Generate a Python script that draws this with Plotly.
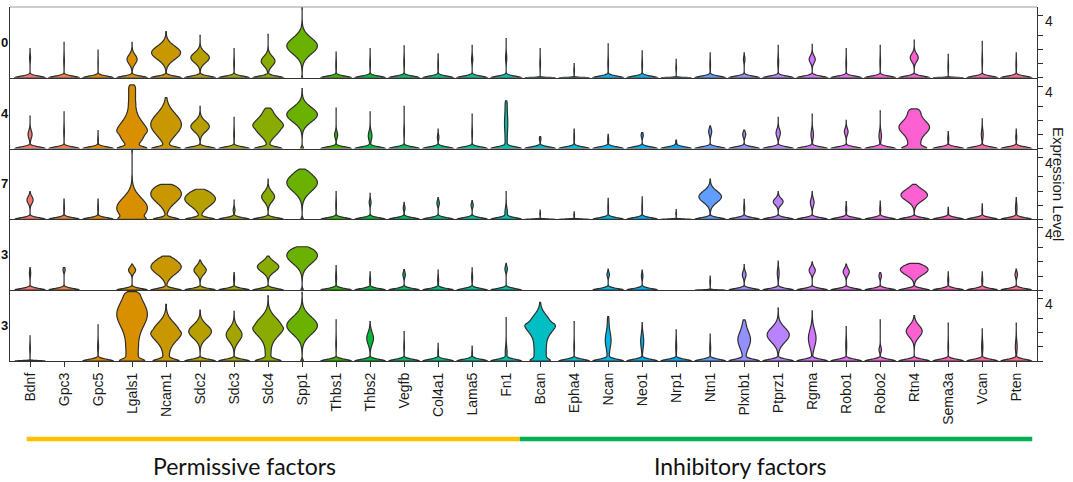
import math
from statistics import NormalDist
import plotly.graph_objects as go
from plotly.subplots import make_subplots

# ---------------- data ----------------
genes = ["Bdnf", "Gpc3", "Gpc5", "Lgals1", "Ncam1", "Sdc2", "Sdc3", "Sdc4", "Spp1",
         "Thbs1", "Thbs2", "Vegfb", "Col4a1", "Lama5", "Fn1",
         "Bcan", "Epha4", "Ncan", "Neo1", "Nrp1", "Ntn1", "Plxnb1", "Ptprz1", "Rgma",
         "Robo1", "Robo2", "Rtn4", "Sema3a", "Vcan", "Pten"]
row_labels = ["0", "4", "7", "3", "3"]
group_labels = ["Permissive factors", "Inhibitory factors"]
group_first_gene = ["Bdnf", "Bcan"]

# per violin: (zero-peak density, expressed-peak density, peak expression,
#              spread of expressed cells, max expression); None = not expressed
row_a = [(1, .03, 1.4, .2, 2.06), (1, .02, 1.2, .3, 2.5), (1, .01, 1.0, .3, 1.96),
         (1, .33, 1.3, .3, 2.5), (1, .95, 1.77, .45, 3.26), (1, .6, 1.42, .33, 3.0),
         (1, .02, 1.0, .3, 2.06), (1, .45, 1.18, .32, 3.07), (.03, 1, 2.25, .55, 4.96),
         (1, .02, .9, .3, 1.82), (1, .02, 1.0, .3, 2.06), (1, .02, 1.1, .3, 2.25),
         (1, .02, .9, .3, 1.7), (1, .04, 1.3, .2, 2.3), (1, .04, 1.4, .25, 2.77),
         (1, .02, 1.0, .3, 2.06), (1, .02, .5, .2, 1.0), (1, .02, 1.0, .3, 2.4),
         (1, .02, .9, .3, 1.9), (1, .02, .7, .2, 1.3), (1, .02, .9, .3, 1.77),
         (1, .05, 1.3, .15, 1.77), (1, .03, 1.1, .3, 2.3), (1, .2, 1.3, .22, 2.36),
         (1, .02, 1.0, .3, 2.06), (1, .02, 1.1, .3, 2.3), (1, .26, 1.42, .25, 2.67),
         (1, .02, .8, .3, 1.65), (1, .02, 1.2, .3, 2.58), (1, .02, .9, .3, 1.77)]
row_b = [(1, .13, 1.0, .25, 2.3), (1, .02, 1.2, .3, 2.6), (1, .02, .6, .2, 1.28),
         (.8, .8, 1.1, .7, 4.5), (.9, 1.0, 1.7, .75, 3.6), (1, .6, 1.56, .35, 2.98),
         (1, .02, 1.0, .3, 2.2), (.85, .8, 1.5, .55, 2.86), (.1, 1, 2.4, .5, 4.24),
         (1, .1, .97, .2, 2.86), (1, .12, .9, .3, 2.6), (1, .02, 1.2, .3, 2.98),
         (1, .05, .8, .15, 1.37), (1, .02, 1.1, .3, 2.43), (1, .04, 1.8, .5, 3.38),
         (1, .05, .7, .1, .85), (1, .02, .8, .3, 1.37), (1, .03, .6, .2, 1.0),
         (1, .07, .95, .12, 1.13), (1, .03, .4, .1, .6), (1, .1, 1.2, .2, 1.6),
         (1, .1, 1.0, .15, 1.3), (1, .14, 1.1, .25, 2.2), (1, .08, 1.0, .3, 2.43),
         (1, .12, 1.2, .2, 2.0), (1, .08, .9, .3, 2.67), (.6, .6, 1.5, .4, 2.8),
         (1, .03, .7, .2, 1.2), (1, .06, 1.0, .3, 2.1), (1, .03, .8, .2, 1.37)]
row_c = [(1, .2, 1.37, .22, 1.96), (1, .02, .8, .3, 1.44), (1, .02, .8, .3, 1.44),
         (.55, 1.0, .8, .7, 4.85), (.85, 1.0, 1.8, .6, 2.48), (.9, .94, 1.45, .5, 2.13),
         (1, .06, .66, .12, 1.37), (1, .42, 1.6, .33, 2.84), (.08, 1, 2.6, .6, 3.55),
         (1, .02, 1.0, .3, 1.96), (1, .06, 1.2, .15, 1.84), (1, .06, .8, .12, 1.2),
         (1, .08, 1.15, .15, 1.54), (1, .07, 1.0, .12, 1.32), (1, .08, .5, .3, 1.96),
         (1, .02, .4, .1, .66), (1, .02, .3, .1, .54), (1, .02, .8, .3, 1.49),
         (1, .02, .8, .3, 1.6), (1, .02, .4, .1, .7), (1, .74, 1.6, .38, 2.84),
         (1, .03, .8, .2, 1.42), (1, .32, 1.25, .2, 1.96), (1, .12, 1.2, .25, 1.96),
         (1, .03, .7, .2, 1.25), (1, .03, .7, .2, 1.3), (1, .87, 1.72, .38, 2.48),
         (1, .02, .5, .2, .85), (1, .02, .6, .2, 1.09), (1, .05, .8, .3, 1.54)]
row_d = [(1, .04, 1.2, .2, 1.6), (1, .07, 1.45, .1, 1.6), None,
         (1, .23, 1.42, .17, 1.84), (1, 1.0, 1.65, .5, 2.41), (1, .4, 1.42, .28, 2.13),
         (1, .03, .8, .2, 1.25), (1, .7, 1.65, .33, 2.41), (.08, 1, 2.45, .55, 3.07),
         (1, .03, .9, .3, 1.73), (1, .03, .7, .2, 1.3), (1, .08, 1.1, .15, 1.46),
         (1, .03, .7, .2, 1.42), (1, .03, .9, .2, 1.58), (1, .08, 1.5, .15, 1.9),
         None, None, (1, .08, 1.1, .12, 1.49),
         (1, .05, 1.0, .15, 1.42), None, (1, .02, .6, .2, .99),
         (1, .12, 1.1, .2, 1.8), (1, .06, 1.2, .3, 2.05), (1, .2, 1.4, .2, 2.0),
         (1, .2, 1.3, .2, 1.84), (1, .08, 1.0, .12, 1.25), (1, .9, 1.45, .35, 1.9),
         (1, .03, .7, .2, 1.3), (1, .03, .7, .2, 1.3), (1, .08, 1.1, .15, 1.49)]
row_e = [(1, .02, .9, .3, 1.77), None, (1, .03, 1.0, .3, 2.55),
         (.6, .6, 3.3, .8, 4.9), (.8, .9, 2.08, .6, 4.0), (1, .74, 2.08, .45, 3.6),
         (1, .52, 1.85, .45, 3.5), (.85, .97, 2.43, .6, 4.6), (.08, 1, 2.5, .6, 4.85),
         (1, .02, 1.2, .3, 2.9), (1, .22, 1.6, .4, 2.79), (1, .02, 1.0, .3, 2.08),
         (1, .02, .6, .2, 1.25), (1, .02, .5, .2, 1.06), (1, .06, .6, .4, 3.07),
         (.5, .75, 2.67, .55, 4.14), (1, .02, 1.0, .3, 2.79), (1, .14, 1.5, .5, 3.14),
         (1, .1, 1.4, .5, 2.72), (1, .03, 1.0, .4, 2.2), (1, .03, .9, .3, 1.9),
         (1, .35, 1.5, .55, 2.9), (1, .72, 1.84, .5, 3.73), (1, .25, 1.6, .6, 3.55),
         (1, .03, 1.1, .4, 2.43), (1, .08, .8, .15, 2.9), (1, .52, 2.1, .4, 3.2),
         (1, .02, 1.0, .3, 2.67), (1, .04, 1.0, .4, 2.27), (1, .06, 1.0, .4, 2.67)]
rows = [row_a, row_b, row_c, row_d, row_e]

# broad plateaus of cells: (density below the peak, density above the peak)
plateaus = {(1, "Lgals1"): (0, .22), (1, "Sdc4"): (0, .2), (1, "Fn1"): (.07, .07),
            (1, "Rtn4"): (.4, .4), (4, "Lgals1"): (.4, .4), (4, "Ncam1"): (.2, 0),
            (4, "Sdc4"): (.2, 0), (4, "Bcan"): (.45, 0), (4, "Ncan"): (.06, .05),
            (4, "Plxnb1"): (.08, .08)}
# violins whose zero-peak is extremely narrow (no visible foot)
sharp = {(0, "Bcan"), (0, "Epha4"), (0, "Nrp1"), (0, "Sema3a"), (2, "Bcan"),
         (2, "Epha4"), (2, "Nrp1"), (3, "Ntn1"), (4, "Bdnf")}

# ---------------- helpers ----------------
BW, BW_SHARP, NCELL = 0.12, 0.03, 500
ND = NormalDist()


def cells(spec, bw, plat):
    dz, db, mu, sd, top = spec
    dl, dh = plat
    s2p = math.sqrt(2 * math.pi)
    w = {"z": dz * bw * s2p, "b": db * s2p * math.sqrt(sd * sd + bw * bw),
         "l": dl * mu, "h": dh * (top - mu)}
    tot = sum(w.values())
    n = {k: int(round(NCELL * v / tot)) for k, v in w.items()}
    vals = [0.0] * max(n["z"], 1)
    for k in range(n["b"]):
        v = mu + sd * ND.inv_cdf((k + 0.5) / n["b"])
        if 0 <= v <= top:
            vals.append(round(v, 3))
    for k in range(n["l"]):
        vals.append(round(mu * (k + 0.5) / n["l"], 3))
    for k in range(n["h"]):
        vals.append(round(mu + (top - mu) * (k + 0.5) / n["h"], 3))
    vals.append(top)
    return vals


def hcl_hex(h, c=100.0, l=65.0):
    hr = math.radians(h)
    U, V = c * math.cos(hr), c * math.sin(hr)
    Y = ((l + 16) / 116) ** 3
    xn, yn, zn = 0.95047, 1.0, 1.08883
    den = xn + 15 * yn + 3 * zn
    un, vn = 4 * xn / den, 9 * yn / den
    u, v = U / (13 * l) + un, V / (13 * l) + vn
    X = Y * 9 * u / (4 * v)
    Z = Y * (12 - 3 * u - 20 * v) / (4 * v)
    rgb = [3.2404542 * X - 1.5371385 * Y - 0.4985314 * Z,
           -0.9692660 * X + 1.8760108 * Y + 0.0415560 * Z,
           0.0556434 * X - 0.2040259 * Y + 1.0572252 * Z]
    out = []
    for ch in rgb:
        ch = 12.92 * ch if ch <= 0.0031308 else 1.055 * ch ** (1 / 2.4) - 0.055
        out.append(int(round(max(0, min(1, ch)) * 255)))
    return "#%02x%02x%02x" % tuple(out)


ng = len(genes)
colors = [hcl_hex(15 + 360 * i / ng) for i in range(ng)]
FONT = "Liberation Sans"

# ---------------- figure ----------------
nrow = len(rows)
fig = make_subplots(rows=nrow, cols=1, shared_xaxes=True, vertical_spacing=0)
for r, data in enumerate(rows):
    for i, g in enumerate(genes):
        spec = data[i]
        if spec is None:
            continue
        bw = BW_SHARP if (r, g) in sharp else BW
        ys = cells(spec, bw, plateaus.get((r, g), (0, 0)))
        fig.add_trace(go.Violin(
            y=ys, name=g, width=0.9, bandwidth=bw, spanmode="hard",
            scalemode="width", points=False, fillcolor=colors[i],
            line=dict(color="#2e2e2e", width=1.2), opacity=1,
            showlegend=False, hoverinfo="skip"), row=r + 1, col=1)

for r in range(nrow):
    ax = "" if r == 0 else str(r + 1)
    fig.layout["yaxis" + ax].update(
        range=[0, 5.0], side="right", showline=True, linecolor="#333333",
        linewidth=1.2, mirror=True, ticks="outside", ticklen=5, tickcolor="#333333",
        tickwidth=1.2, tickvals=[0, 1, 2, 3, 4.4], showticklabels=False,
        showgrid=False, zeroline=False, fixedrange=True)
    bottom = r == nrow - 1
    fig.layout["xaxis" + ax].update(
        type="category", categoryorder="array", categoryarray=genes,
        range=[-0.59, 29.61], showline=True, linecolor="#333333", linewidth=1.2,
        showgrid=False, zeroline=False, automargin=False,
        ticks="outside" if bottom else "", ticklen=5, tickcolor="#333333",
        showticklabels=bottom, tickangle=-90,
        tickfont=dict(family=FONT, size=14, color="#1a1a1a"))
    fig.add_annotation(text="4", xref="paper", x=1, xanchor="left", xshift=6,
                       yref="y" + ax, y=4.0, yanchor="middle", showarrow=False,
                       font=dict(family=FONT, size=14, color="#1a1a1a"))
    fig.add_annotation(text="<b>%s</b>" % row_labels[r], xref="paper", x=0,
                       xanchor="left", xshift=-10, yref="y" + ax, y=2.5,
                       yanchor="middle", showarrow=False, borderpad=0,
                       font=dict(family=FONT, size=13, color="#111111"))

# top border of the stack
fig.add_shape(type="line", xref="paper", yref="paper", x0=0, x1=1, y0=1, y1=1,
              line=dict(color="#9a9a9a", width=1.2))
fig.add_annotation(text="Expression Level", xref="paper", x=1, xshift=22,
                   xanchor="center", yref="paper", y=0.5, textangle=90,
                   showarrow=False, font=dict(family=FONT, size=15, color="#1a1a1a"))

# group bars and labels under the gene names
xb = "x" + str(nrow)
i_split = genes.index(group_first_gene[1])
bars = [(-0.1, i_split - 0.6, "#FFC000"), (i_split - 0.6, ng - 0.53, "#00B050")]
for x0, x1, col in bars:
    fig.add_shape(type="line", xref=xb, yref="paper", x0=x0, x1=x1,
                  y0=-0.22, y1=-0.22, line=dict(color=col, width=4.5))
for lab, xc in zip(group_labels, [6.3, 20.9]):
    fig.add_annotation(text=lab, xref=xb, x=xc, yref="paper", y=-0.297,
                       xanchor="center", yanchor="middle", showarrow=False,
                       font=dict(family="Lato", size=23, color="#111111"))

fig.update_layout(width=1073, height=482, margin=dict(l=10, r=36, t=7, b=121),
                  paper_bgcolor="white", plot_bgcolor="white",
                  violinmode="overlay", violingap=0, showlegend=False)
fig.write_html("out.html", config={"displayModeBar": False},
               post_script="document.body.style.margin='0px';document.body.style.overflow='hidden';")
